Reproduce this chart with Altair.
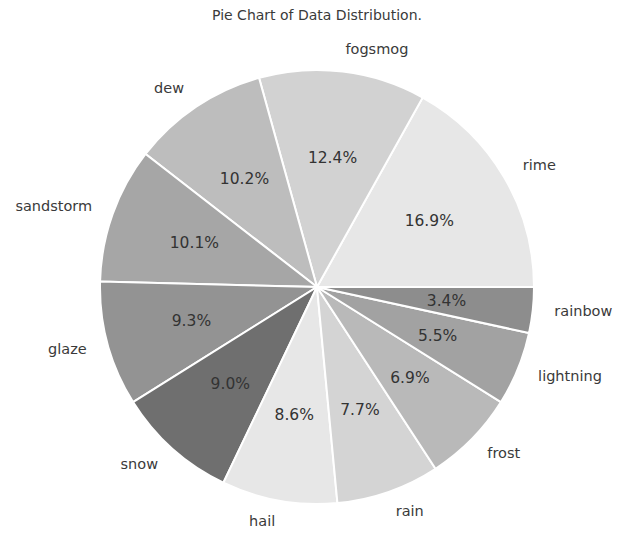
import math
import altair as alt
import pandas as pd

# Data (matplotlib order: counter-clockwise from 3 o'clock)
names = ["rime", "fogsmog", "dew", "sandstorm", "glaze", "snow",
         "hail", "rain", "frost", "lightning", "rainbow"]
shares = [16.9, 12.4, 10.2, 10.1, 9.3, 9.0, 8.6, 7.7, 6.9, 5.5, 3.4]
greys = ["#e7e7e7", "#d2d2d2", "#bdbdbd", "#a6a6a6", "#939393", "#6f6f6f",
         "#e7e7e7", "#d4d4d4", "#b9b9b9", "#a2a2a2", "#8d8d8d"]
title_text = ["Pie Chart of Data Distribution."]

# Side of each label (matplotlib aligns left for x>0, right otherwise)
total = sum(shares)
cum = 0.0
side = []
for s in shares:
    mid = (cum + s / 2) / total * 2 * math.pi
    side.append("R" if math.cos(mid) > 0 else "L")
    cum += s

# Vega draws clockwise from 12 o'clock, so reverse order and start at 3 o'clock
df = pd.DataFrame({
    "name": names,
    "share": shares,
    "pct": [f"{v:.1f}%" for v in shares],
    "labR": [n if sd == "R" else "" for n, sd in zip(names, side)],
    "labL": [n if sd == "L" else "" for n, sd in zip(names, side)],
    "ord": list(range(len(names), 0, -1)),
})

CX, CY, R = 309, 279, 217

theta = alt.Theta("share:Q", stack=True,
                  scale=alt.Scale(range=[math.pi / 2, math.pi / 2 + 2 * math.pi]))
order = alt.Order("ord:Q", sort="ascending")

base = alt.Chart(df).encode(theta=theta, order=order,
                            x=alt.value(CX), y=alt.value(CY))

arcs = base.mark_arc(outerRadius=R, stroke="white", strokeWidth=2).encode(
    color=alt.Color("name:N", scale=alt.Scale(domain=names, range=greys), legend=None)
)

pct = base.mark_text(radius=R * 0.6, fontSize=15.5, font="DejaVu Sans",
                     color="#333333", align="center", baseline="middle").encode(
    text="pct:N")

lab_r = base.mark_text(radius=R * 1.1, fontSize=14.5, font="DejaVu Sans",
                       color="#3a3a3a", align="left", baseline="middle").encode(
    text="labR:N")

lab_l = base.mark_text(radius=R * 1.1, fontSize=14.5, font="DejaVu Sans",
                       color="#3a3a3a", align="right", baseline="middle").encode(
    text="labL:N")

title = alt.Chart(pd.DataFrame({"t": title_text})).mark_text(
    fontSize=14, font="DejaVu Sans", color="#3a3a3a", align="center", baseline="top"
).encode(text="t:N", x=alt.value(CX), y=alt.value(1))

chart = alt.layer(arcs, pct, lab_r, lab_l, title).properties(
    width=614, height=522,
    autosize=alt.AutoSizeParams(type="none"),
    padding=0,
).configure_view(stroke=None)

chart.save("out.html", embed_options={"renderer": "svg", "actions": False})
